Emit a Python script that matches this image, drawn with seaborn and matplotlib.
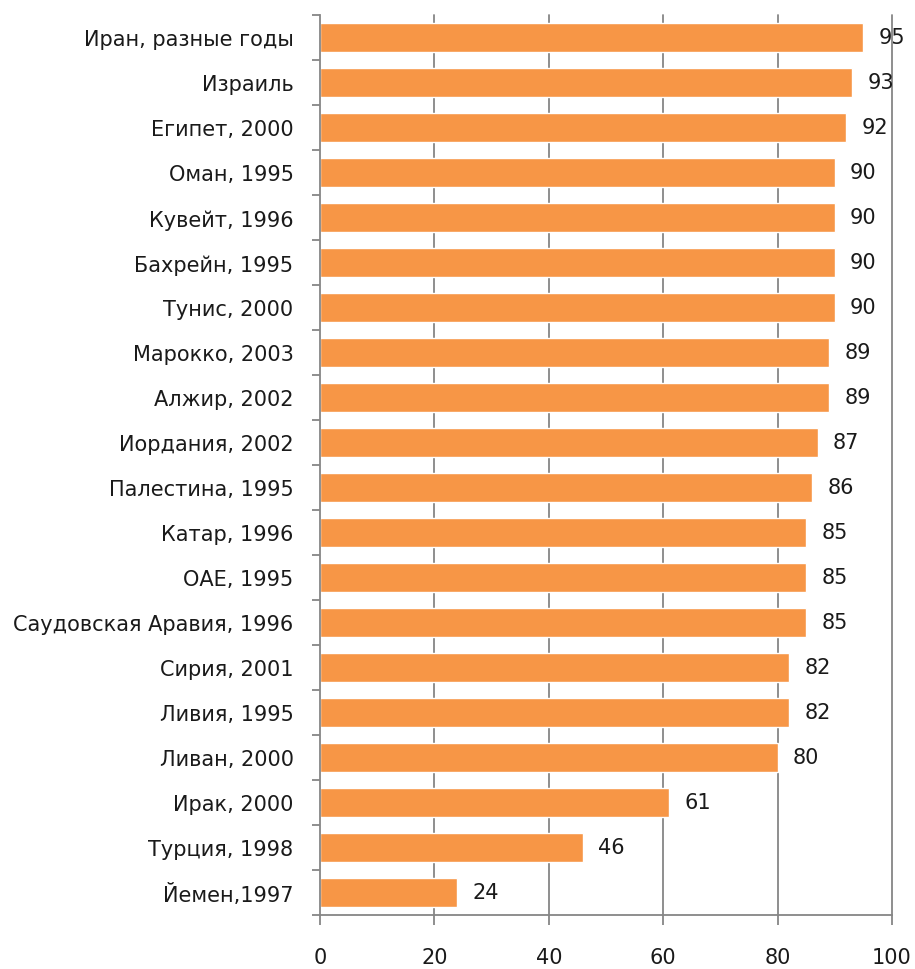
import matplotlib
matplotlib.use("Agg")
import matplotlib.pyplot as plt
import seaborn as sns
import pandas as pd
import numpy as np
from matplotlib.ticker import FixedLocator

countries = [
    "Иран, разные годы", "Израиль", "Египет, 2000", "Оман, 1995", "Кувейт, 1996",
    "Бахрейн, 1995", "Тунис, 2000", "Марокко, 2003", "Алжир, 2002", "Иордания, 2002",
    "Палестина, 1995", "Катар, 1996", "ОАЕ, 1995", "Саудовская Аравия, 1996",
    "Сирия, 2001", "Ливия, 1995", "Ливан, 2000", "Ирак, 2000", "Турция, 1998",
    "Йемен,1997",
]
values = [95, 93, 92, 90, 90, 90, 90, 89, 89, 87, 86, 85, 85, 85, 82, 82, 80, 61, 46, 24]
x_ticks = [0, 20, 40, 60, 80, 100]

df = pd.DataFrame({"country": countries, "value": values})

sns.set_theme(style="white")
plt.rcParams["font.family"] = ["DejaVu Sans"]

fig = plt.figure(figsize=(9.15, 9.7), dpi=100)
ax = fig.add_axes([320 / 915, 1 - 916 / 970, 572 / 915, 900 / 970])

grid_color = "#868686"
text_color = "#1a1a1a"
fs = 15

ax.set_xlim(0, 100)
ax.set_xticks(x_ticks)
for t in x_ticks[1:]:
    ax.axvline(t, color=grid_color, lw=1.3, zorder=0, clip_on=False)

sns.barplot(data=df, x="value", y="country", orient="h", color="#F79646",
            saturation=1, width=0.65, ax=ax, zorder=2)
ax.set_ylim(len(countries) - 0.5, -0.5)

for i, v in enumerate(values):
    ax.annotate(f"{v}", xy=(v, i), xytext=(11, 0), textcoords="offset points",
                ha="left", va="center", fontsize=fs, color=text_color)

for side in ("top", "right"):
    ax.spines[side].set_visible(False)
for side in ("left", "bottom"):
    ax.spines[side].set_color(grid_color)
    ax.spines[side].set_linewidth(1.3)

ax.set_xlabel("")
ax.set_ylabel("")
ax.tick_params(axis="y", which="major", length=0, pad=19, labelsize=fs,
               labelcolor=text_color)
ax.yaxis.set_minor_locator(FixedLocator(np.arange(-0.5, len(countries), 1.0)))
ax.tick_params(axis="y", which="minor", left=True, length=6, width=1.3,
               color=grid_color, direction="out")
ax.tick_params(axis="x", which="major", bottom=True, length=7, width=1.3,
               color=grid_color, direction="out", pad=16, labelsize=fs,
               labelcolor=text_color)

fig.savefig("out.png", dpi=100)
